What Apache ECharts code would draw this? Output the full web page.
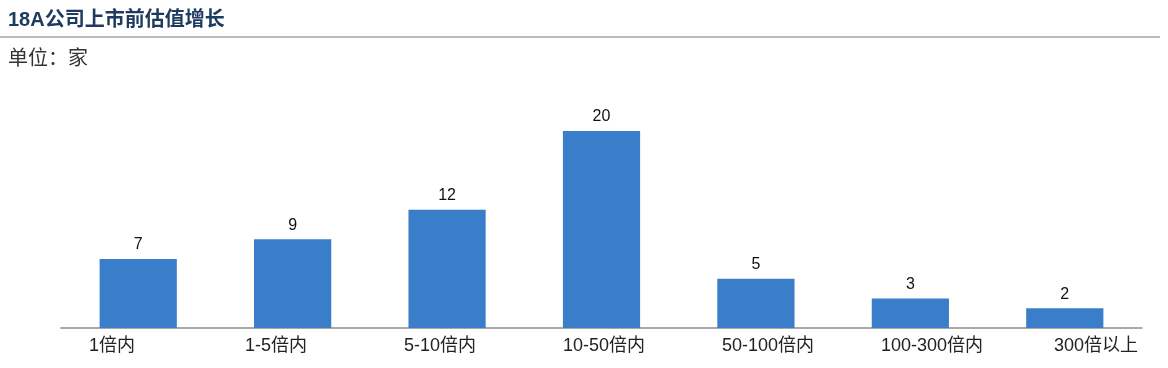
<!DOCTYPE html>
<html><head><meta charset="utf-8">
<script src="https://cdn.jsdelivr.net/npm/echarts@6/dist/echarts.min.js"></script>
<style>html,body{margin:0;padding:0;background:#fff}#c{width:1168px;height:368px}</style>
</head><body><div id="c"></div>
<script>
const categories = ['1倍内','1-5倍内','5-10倍内','10-50倍内','50-100倍内','100-300倍内','300倍以上'];
const values = [7, 9, 12, 20, 5, 3, 2];
const titleText = '18A公司上市前估值增长';
const unitText = '单位：家';

const chart = echarts.init(document.getElementById('c'), null, {renderer:'canvas'});
const font = '"Liberation Sans","Noto Sans CJK SC",sans-serif';
chart.setOption({
  animation: false,
  textStyle: {fontFamily: font},
  graphic: [
    {type:'text', left: 8, top: 10, style:{text: titleText, fill:'#1F3A60', font:'bold 20px ' + font}},
    {type:'line', shape:{x1:0, y1:37, x2:1160, y2:37}, style:{stroke:'#A6A6A6', lineWidth:1.5}},
    {type:'text', left: 8, top: 49, style:{text: unitText, fill:'#333333', font:'20px ' + font}}
  ],
  grid: [
    {left: 61, right: 26, top: 131, bottom: 40, containLabel: false},
    {left: 112, right: 72, top: 131, bottom: 40, containLabel: false}
  ],
  xAxis: [
    {type:'category', gridIndex:0, data: categories,
     axisLine:{lineStyle:{color:'#8C8C8C', width:1.5}}, axisTick:{show:false}, axisLabel:{show:false}},
    {type:'category', gridIndex:1, data: categories, boundaryGap:false,
     axisLine:{show:false}, axisTick:{show:false},
     axisLabel:{show:true, interval:0, color:'#222', fontSize:18, margin:9, fontFamily: font}}
  ],
  yAxis: [
    {type:'value', gridIndex:0, min:0, max:20, show:false},
    {type:'value', gridIndex:1, min:0, max:20, show:false}
  ],
  series: [{
    type:'bar', xAxisIndex:0, yAxisIndex:0, data: values, barWidth:'50%',
    itemStyle:{color:'#3A7DC8'},
    label:{show:true, position:'top', distance:6, color:'#111', fontSize:16, fontFamily: font}
  }]
});
</script></body></html>
